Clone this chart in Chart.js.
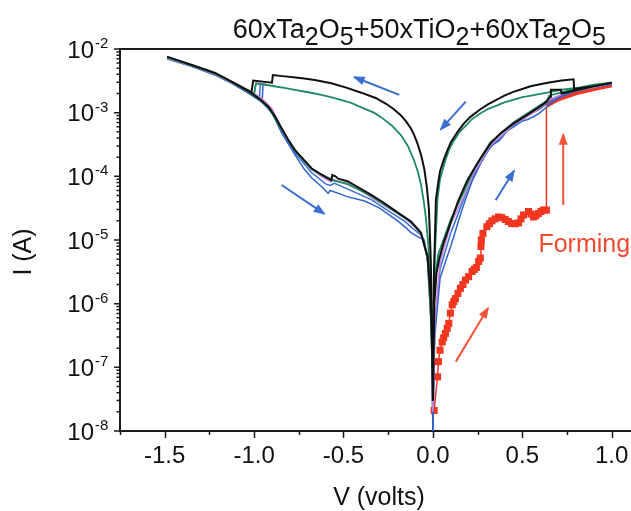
<!DOCTYPE html>
<html>
<head>
<meta charset="utf-8">
<script src="https://cdn.jsdelivr.net/npm/chart.js@4.4.1/dist/chart.umd.min.js"></script>
<style>
  html, body { margin: 0; padding: 0; background: #fff; }
  canvas { display: block; }
</style>
</head>
<body>
<canvas id="ivChart" width="631" height="511"></canvas>
<script>
// --- title / axis text ---
titleParts = [['60xTa', 0], ['2', 1], ['O', 0], ['5', 1], ['+50xTiO', 0], ['2', 1], ['+60xTa', 0], ['2', 1], ['O', 0], ['5', 1]];
xTitle = 'V (volts)';
yTitle = 'I (A)';
xMajorTicks = [-1.5, -1.0, -0.5, 0.0, 0.5, 1.0];
xTickLabels = ['-1.5', '-1.0', '-0.5', '0.0', '0.5', '1.0'];
xMinorTicks = [-1.75, -1.25, -0.75, -0.25, 0.25, 0.75];
yDecades = [-8, -7, -6, -5, -4, -3, -2];

// --- black loop ---
blackNegV = [0, -0.005, -0.012, -0.022, -0.033, -0.048, -0.065, -0.085, -0.104, -0.122, -0.15, -0.178, -0.22, -0.262, -0.32, -0.401, -0.48, -0.568, -0.661, -0.72, -0.78, -0.84, -0.895, -0.9, -1.005, -1.015, -1.125, -1.218, -1.347, -1.487, -1.347, -1.218, -1.125, -1.023, -0.97, -0.92, -0.88, -0.846, -0.81, -0.772, -0.72, -0.679, -0.62, -0.568, -0.563, -0.545, -0.53, -0.475, -0.42, -0.345, -0.29, -0.234, -0.18, -0.122, -0.067, -0.03, -0.012, -0.004, 0];
blackNegI = [3e-8, 5e-7, 5e-6, 3e-5, 6.5e-5, 1.3e-4, 2.1e-4, 3.2e-4, 4.4e-4, 5.6e-4, 7.3e-4, 9e-4, 1.14e-3, 1.38e-3, 1.7e-3, 2.06e-3, 2.45e-3, 2.9e-3, 3.26e-3, 3.45e-3, 3.6e-3, 3.75e-3, 3.9e-3, 2.95e-3, 3.2e-3, 2.1e-3, 3.07e-3, 4.2e-3, 5.6e-3, 7.6e-3, 5.6e-3, 4.2e-3, 3.07e-3, 2.1e-3, 1.65e-3, 1.24e-3, 8.5e-4, 5.7e-4, 3.8e-4, 2.6e-4, 1.8e-4, 1.34e-4, 1.05e-4, 8.7e-5, 1.05e-4, 1.0e-4, 9.2e-5, 8.3e-5, 6.8e-5, 5.1e-5, 4.1e-5, 3.2e-5, 2.5e-5, 1.95e-5, 1.3e-5, 5.5e-6, 1.2e-6, 1.5e-7, 3e-8];
blackPosV = [0, 0.008, 0.02, 0.035, 0.06, 0.1, 0.14, 0.193, 0.23, 0.27, 0.323, 0.38, 0.453, 0.52, 0.583, 0.63, 0.657, 0.66, 0.716, 0.72, 0.8, 0.9, 1.0, 0.9, 0.79, 0.787, 0.72, 0.65, 0.6, 0.546, 0.5, 0.45, 0.4, 0.36, 0.31, 0.26, 0.21, 0.174, 0.14, 0.1, 0.082, 0.06, 0.04, 0.03, 0.017, 0.006, 0];
blackPosI = [3e-8, 1e-6, 3e-6, 5e-6, 9e-6, 1.9e-5, 4e-5, 8.7e-5, 1.3e-4, 2e-4, 3.3e-4, 4.8e-4, 6.8e-4, 9e-4, 1.17e-3, 1.45e-3, 1.78e-3, 2.3e-3, 2.3e-3, 2.0e-3, 2.25e-3, 2.6e-3, 2.96e-3, 2.6e-3, 2.35e-3, 3.35e-3, 3.2e-3, 2.98e-3, 2.8e-3, 2.6e-3, 2.36e-3, 2.12e-3, 1.85e-3, 1.62e-3, 1.36e-3, 1.1e-3, 8.6e-4, 6.8e-4, 5.1e-4, 3.4e-4, 2.6e-4, 1.8e-4, 1.2e-4, 8e-5, 4.3e-5, 3e-6, 3e-8];

// --- green loop ---
greenNegV = [0, -0.004, -0.012, -0.025, -0.039, -0.052, -0.067, -0.085, -0.106, -0.14, -0.178, -0.23, -0.29, -0.33, -0.38, -0.42, -0.457, -0.52, -0.56, -0.624, -0.661, -0.72, -0.78, -0.83, -0.89, -0.94, -0.99, -1.0, -1.125, -1.218, -1.347, -1.487, -1.347, -1.218, -1.125, -1.023, -0.97, -0.92, -0.846, -0.772, -0.679, -0.6, -0.55, -0.475, -0.345, -0.234, -0.122, -0.067, -0.03, -0.01, 0];
greenNegI = [1e-7, 3e-7, 2e-6, 8e-6, 2.2e-5, 4.2e-5, 7.5e-5, 1.2e-4, 1.8e-4, 3.0e-4, 4.4e-4, 6.3e-4, 8.5e-4, 1.0e-3, 1.15e-3, 1.28e-3, 1.42e-3, 1.6e-3, 1.72e-3, 1.9e-3, 2.0e-3, 2.15e-3, 2.3e-3, 2.45e-3, 2.6e-3, 2.75e-3, 2.85e-3, 1.95e-3, 3.0e-3, 4.1e-3, 5.5e-3, 7.4e-3, 5.5e-3, 4.1e-3, 3.0e-3, 2.05e-3, 1.6e-3, 1.2e-3, 5.5e-4, 2.5e-4, 1.3e-4, 9.8e-5, 8.5e-5, 7.6e-5, 4.9e-5, 3.1e-5, 1.9e-5, 1.3e-5, 5.5e-6, 5e-7, 5e-8];
greenPosV = [0, 0.008, 0.03, 0.1, 0.17, 0.23, 0.32, 0.45, 0.58, 0.64, 0.65, 0.75, 0.9, 1.0, 0.9, 0.824, 0.72, 0.639, 0.6, 0.55, 0.5, 0.453, 0.4, 0.36, 0.31, 0.267, 0.22, 0.19, 0.15, 0.119, 0.09, 0.07, 0.04, 0.026, 0.01, 0];
greenPosI = [5e-8, 2e-6, 6e-6, 2.1e-5, 5.5e-5, 1.3e-4, 3.4e-4, 7e-4, 1.2e-3, 1.55e-3, 1.85e-3, 2.2e-3, 2.6e-3, 2.95e-3, 2.75e-3, 2.5e-3, 2.3e-3, 2.06e-3, 1.97e-3, 1.85e-3, 1.75e-3, 1.6e-3, 1.45e-3, 1.3e-3, 1.15e-3, 9.8e-4, 8e-4, 6.5e-4, 5e-4, 3.7e-4, 2.6e-4, 1.8e-4, 9e-5, 4.5e-5, 5e-6, 5e-8];

// --- purple ---
purpleNegV = [-0.93, -0.99, -1.0, -1.125, -1.218, -1.347, -1.487, -1.347, -1.218, -1.125, -1.0, -0.95, -0.9, -0.846, -0.772, -0.679, -0.62, -0.57, -0.56, -0.475, -0.4, -0.345, -0.234, -0.16, -0.122, -0.1, -0.067, -0.03, -0.008, 0];
purpleNegI = [2.75e-3, 2.95e-3, 2.0e-3, 2.95e-3, 4.0e-3, 5.4e-3, 7.2e-3, 5.4e-3, 4.0e-3, 2.95e-3, 2.0e-3, 1.6e-3, 1.15e-3, 5.4e-4, 2.5e-4, 1.3e-4, 9.8e-5, 8.2e-5, 9e-5, 7.4e-5, 5.9e-5, 4.7e-5, 3.0e-5, 2.3e-5, 1.8e-5, 1.6e-5, 1.25e-5, 5e-6, 4e-7, 2e-8];
purplePosV = [0, 0.01, 0.04, 0.1, 0.17, 0.23, 0.32, 0.45, 0.58, 0.65, 0.75, 0.9, 1.0];
purplePosI = [2e-8, 5e-7, 4.5e-6, 1.8e-5, 4.6e-5, 1.15e-4, 3.0e-4, 6.4e-4, 1.08e-3, 1.6e-3, 2.1e-3, 2.5e-3, 2.9e-3];

// --- blue (two sweeps) ---
blueANegV = [-0.92, -0.95, -0.955, -1.023, -1.125, -1.218, -1.347, -1.487, -1.347, -1.218, -1.125, -1.023, -0.955, -0.9, -0.846, -0.772, -0.72, -0.679, -0.62, -0.586, -0.575, -0.52, -0.48, -0.382, -0.3, -0.197, -0.15, -0.122, -0.09, -0.048, -0.02, -0.006, 0];
blueANegI = [2.7e-3, 2.8e-3, 1.5e-3, 1.95e-3, 2.9e-3, 3.9e-3, 5.3e-3, 7.0e-3, 5.3e-3, 3.9e-3, 2.9e-3, 1.95e-3, 1.45e-3, 1.0e-3, 4.8e-4, 2.2e-4, 1.3e-4, 9.5e-5, 6.8e-5, 5.4e-5, 6.0e-5, 5.3e-5, 4.8e-5, 4.1e-5, 3.2e-5, 2.0e-5, 1.55e-5, 1.3e-5, 1.15e-5, 1.0e-5, 3e-6, 3e-7, 1e-8];
blueAPosV = [0, 0.01, 0.04, 0.08, 0.1, 0.128, 0.156, 0.184, 0.22, 0.267, 0.3, 0.33, 0.37, 0.416, 0.46, 0.5, 0.53, 0.564, 0.6, 0.639, 0.7, 0.8, 0.9, 1.0];
blueAPosI = [1e-8, 3e-7, 2.5e-6, 5.5e-6, 8e-6, 1.44e-5, 2.6e-5, 4.5e-5, 8.5e-5, 1.6e-4, 2.3e-4, 3.1e-4, 3.6e-4, 5.2e-4, 6.2e-4, 7.4e-4, 7.8e-4, 8.7e-4, 1.0e-3, 1.25e-3, 1.7e-3, 2.2e-3, 2.5e-3, 2.8e-3];
blueBNegV = [-0.93, -0.965, -0.97, -1.023, -1.125, -1.218, -1.347, -1.487, -1.347, -1.218, -1.125, -1.023, -0.97, -0.9, -0.846, -0.772, -0.679, -0.6, -0.575, -0.55, -0.475, -0.345, -0.234, -0.16, -0.122, -0.06, -0.03, -0.008, 0];
blueBNegI = [2.75e-3, 2.85e-3, 1.7e-3, 2.0e-3, 2.9e-3, 3.95e-3, 5.35e-3, 7.1e-3, 5.35e-3, 3.95e-3, 2.9e-3, 2.0e-3, 1.6e-3, 1.1e-3, 5.2e-4, 2.35e-4, 1.15e-4, 7.6e-5, 7.2e-5, 7.8e-5, 6.3e-5, 4.3e-5, 2.7e-5, 2.0e-5, 1.6e-5, 1.15e-5, 5e-6, 4e-7, 1e-8];
blueBPosV = [0, 0.01, 0.04, 0.1, 0.15, 0.2, 0.25, 0.31, 0.36, 0.4, 0.45, 0.5, 0.56, 0.6, 0.65, 0.75, 0.88, 1.0];
blueBPosI = [1e-8, 4e-7, 3.5e-6, 1.3e-5, 3e-5, 7e-5, 1.4e-4, 2.7e-4, 3.6e-4, 4.9e-4, 6.2e-4, 7.8e-4, 1.0e-3, 1.15e-3, 1.5e-3, 2.0e-3, 2.45e-3, 2.85e-3];

// --- forming sweep (red squares) ---
formingV = [0.007, 0.026, 0.031, 0.04, 0.052, 0.06, 0.07, 0.08, 0.089, 0.098, 0.108, 0.117, 0.126, 0.14, 0.154, 0.168, 0.182, 0.2, 0.219, 0.231, 0.243, 0.256, 0.265, 0.269, 0.271, 0.28, 0.302, 0.316, 0.33, 0.348, 0.367, 0.385, 0.404, 0.422, 0.441, 0.46, 0.479, 0.493, 0.507, 0.535, 0.549, 0.563, 0.576, 0.59, 0.604, 0.618, 0.635];
formingI = [2.1e-8, 7.1e-8, 1.23e-7, 1.86e-7, 2.5e-7, 2.9e-7, 3.4e-7, 4.1e-7, 4.9e-7, 7.1e-7, 9.6e-7, 1.08e-6, 1.2e-6, 1.45e-6, 1.74e-6, 2.0e-6, 2.35e-6, 2.65e-6, 3.2e-6, 3.45e-6, 3.7e-6, 4.6e-6, 5.2e-6, 7.9e-6, 1.0e-5, 1.27e-5, 1.62e-5, 1.8e-5, 2.0e-5, 2.15e-5, 2.3e-5, 2.25e-5, 2.1e-5, 1.95e-5, 1.82e-5, 1.8e-5, 1.86e-5, 2.15e-5, 2.47e-5, 2.8e-5, 2.55e-5, 2.3e-5, 2.4e-5, 2.6e-5, 2.8e-5, 2.95e-5, 2.95e-5];
formedV = [0.635, 0.635, 0.7, 0.8, 0.9, 1.0];
formedI = [2.95e-5, 1.3e-3, 1.65e-3, 2.05e-3, 2.4e-3, 2.75e-3];
formingLabel = { text: 'Forming', v: 0.59, i: 6.5e-6 };

// --- sweep-direction arrows [V0, I0, V1, I1] ---
blueArrows = [
  [-0.188, 1.9e-3, -0.438, 3.6e-3],
  [0.184, 1.49e-3, 0.045, 5.5e-4],
  [0.351, 4.2e-5, 0.453, 1.21e-4],
  [-0.846, 7.3e-5, -0.609, 2.6e-5]
];
redArrows = [
  [0.128, 1.23e-7, 0.308, 8.5e-7],
  [0.729, 3.55e-5, 0.729, 4.5e-4]
];

var FONT = '"Liberation Sans", Arial, Helvetica, sans-serif';
var AXIS = '#1b1b1b';

function pts(vs, is) {
    return vs.map(function (v, k) { return {x: v, y: is[k]}; });
}

function curve(label, vs, is, color, width, order) {
    return {
        label: label,
        data: pts(vs, is),
        showLine: true,
        borderColor: color,
        backgroundColor: color,
        borderWidth: width,
        pointRadius: 0,
        tension: 0,
        order: order
    };
}

datasets = [
    curve('black -', blackNegV, blackNegI, '#101010', 2, 1),
    curve('black +', blackPosV, blackPosI, '#101010', 2, 1),
    curve('green -', greenNegV, greenNegI, '#1e8c5e', 1.8, 2),
    curve('green +', greenPosV, greenPosI, '#1e8c5e', 1.8, 2),
    curve('purple -', purpleNegV, purpleNegI, '#c481d6', 1.6, 3),
    curve('purple +', purplePosV, purplePosI, '#c481d6', 1.6, 3),
    curve('blue a -', blueANegV, blueANegI, '#2f63cc', 1.5, 4),
    curve('blue a +', blueAPosV, blueAPosI, '#2f63cc', 1.5, 4),
    curve('blue b -', blueBNegV, blueBNegI, '#3a6fd6', 1.5, 4),
    curve('blue b +', blueBPosV, blueBPosI, '#3a6fd6', 1.5, 4)
];

var formed = curve('formed', formedV, formedI, '#f2361f', 1.5, 6);
formed.segment = { borderWidth: function (ctx) { return ctx.p0DataIndex >= 1 ? 5 : 1.5; } };
datasets.push(formed);

datasets.push({
    label: 'forming',
    data: pts(formingV, formingI),
    showLine: true,
    borderColor: '#f2361f',
    backgroundColor: '#f2361f',
    borderWidth: 1.5,
    pointStyle: 'rect',
    pointRadius: 5,
    pointBorderWidth: 0,
    order: 5
});

blueArrows.forEach(function (a) {
    datasets.push({ arrow: true, data: pts([a[0], a[2]], [a[1], a[3]]), showLine: true, borderColor: '#3a6fd0', borderWidth: 2, pointRadius: 0, order: 0 });
});
redArrows.forEach(function (a) {
    datasets.push({ arrow: true, data: pts([a[0], a[2]], [a[1], a[3]]), showLine: true, borderColor: '#f0553a', borderWidth: 2, pointRadius: 0, order: 0 });
});

var decor = {
    id: 'decor',
    afterDatasetsDraw: function (chart) {
        var c = chart.ctx;
        // arrow heads
        chart.data.datasets.forEach(function (ds, k) {
            if (!ds.arrow) return;
            var m = chart.getDatasetMeta(k).data;
            var p0 = m[0], p1 = m[1];
            var ang = Math.atan2(p1.y - p0.y, p1.x - p0.x);
            c.save();
            c.fillStyle = ds.borderColor;
            c.translate(p1.x, p1.y);
            c.rotate(ang);
            c.beginPath();
            c.moveTo(2, 0);
            c.lineTo(-10, -4.5);
            c.lineTo(-10, 4.5);
            c.closePath();
            c.fill();
            c.restore();
        });
    },
    afterDraw: function (chart) {
        var c = chart.ctx, a = chart.chartArea;
        var xs = chart.scales.x, ys = chart.scales.y;
        c.save();
        c.strokeStyle = AXIS;
        c.fillStyle = '#111';
        // top frame line
        c.lineWidth = 2;
        c.beginPath();
        c.moveTo(a.left - 1, a.top);
        c.lineTo(a.right, a.top);
        c.stroke();

        // x ticks
        c.lineWidth = 1.5;
        c.beginPath();
        xMajorTicks.forEach(function (v) {
            var px = Math.round(xs.getPixelForValue(v)) + 0.5;
            c.moveTo(px, a.bottom); c.lineTo(px, a.bottom + 7);
        });
        xMinorTicks.forEach(function (v) {
            var px = Math.round(xs.getPixelForValue(v)) + 0.5;
            c.moveTo(px, a.bottom); c.lineTo(px, a.bottom + 4);
        });
        // y ticks
        yDecades.forEach(function (d) {
            var py = ys.getPixelForValue(Math.pow(10, d));
            c.moveTo(a.left - 6, py); c.lineTo(a.left, py);
            if (d < yDecades[yDecades.length - 1]) {
                for (var m = 2; m <= 9; m++) {
                    var q = ys.getPixelForValue(m * Math.pow(10, d));
                    c.moveTo(a.left - 3.5, q); c.lineTo(a.left, q);
                }
            }
        });
        c.stroke();

        // x tick labels
        c.font = '24px ' + FONT;
        c.textAlign = 'center';
        c.textBaseline = 'alphabetic';
        xMajorTicks.forEach(function (v, k) {
            c.fillText(xTickLabels[k], xs.getPixelForValue(v), a.bottom + 32);
        });

        // y tick labels 10^n
        yDecades.forEach(function (d) {
            var py = ys.getPixelForValue(Math.pow(10, d));
            c.font = '24px ' + FONT;
            c.textAlign = 'right';
            c.fillText('10', a.left - 26, py + 8.5);
            c.font = '15px ' + FONT;
            c.textAlign = 'left';
            c.fillText(String(d), a.left - 25, py - 1);
        });

        // axis titles
        c.font = '25px ' + FONT;
        c.textAlign = 'center';
        c.fillText(xTitle, 379, 505);
        c.save();
        c.translate(24, 252);
        c.rotate(-Math.PI / 2);
        c.textBaseline = 'middle';
        c.fillText(yTitle, 0, 0);
        c.restore();

        // title with subscripts, right aligned
        var total = 0;
        titleParts.forEach(function (p) {
            c.font = (p[1] ? '25px ' : '27px ') + FONT;
            total += c.measureText(p[0]).width;
        });
        var tx = 606 - total;
        c.textAlign = 'left';
        titleParts.forEach(function (p) {
            c.font = (p[1] ? '25px ' : '27px ') + FONT;
            c.fillText(p[0], tx, p[1] ? 45 : 38);
            tx += c.measureText(p[0]).width;
        });

        // forming label
        c.fillStyle = '#f04a30';
        c.font = '25px ' + FONT;
        c.fillText(formingLabel.text, xs.getPixelForValue(formingLabel.v), ys.getPixelForValue(formingLabel.i));
        c.restore();
    }
};

var ctx = document.getElementById('ivChart').getContext('2d');
var ivChart = new Chart(ctx, {
    type: 'scatter',
    data: { datasets: datasets },
    options: {
        responsive: false,
        devicePixelRatio: 1,
        animation: false,
        layout: { autoPadding: false, padding: { top: 49, left: 0, right: 0, bottom: 0 } },
        plugins: { legend: { display: false }, tooltip: { enabled: false }, title: { display: false } },
        scales: {
            x: {
                type: 'linear',
                min: -1.75,
                max: 1.108,
                ticks: { display: false },
                grid: { display: false },
                border: { display: true, color: AXIS, width: 2 },
                afterFit: function (s) { s.height = 80; }
            },
            y: {
                type: 'logarithmic',
                min: 1e-8,
                max: 1e-2,
                ticks: { display: false },
                grid: { display: false },
                border: { display: true, color: AXIS, width: 2 },
                afterFit: function (s) { s.width = 120; }
            }
        }
    },
    plugins: [decor]
});
</script>
</body>
</html>
